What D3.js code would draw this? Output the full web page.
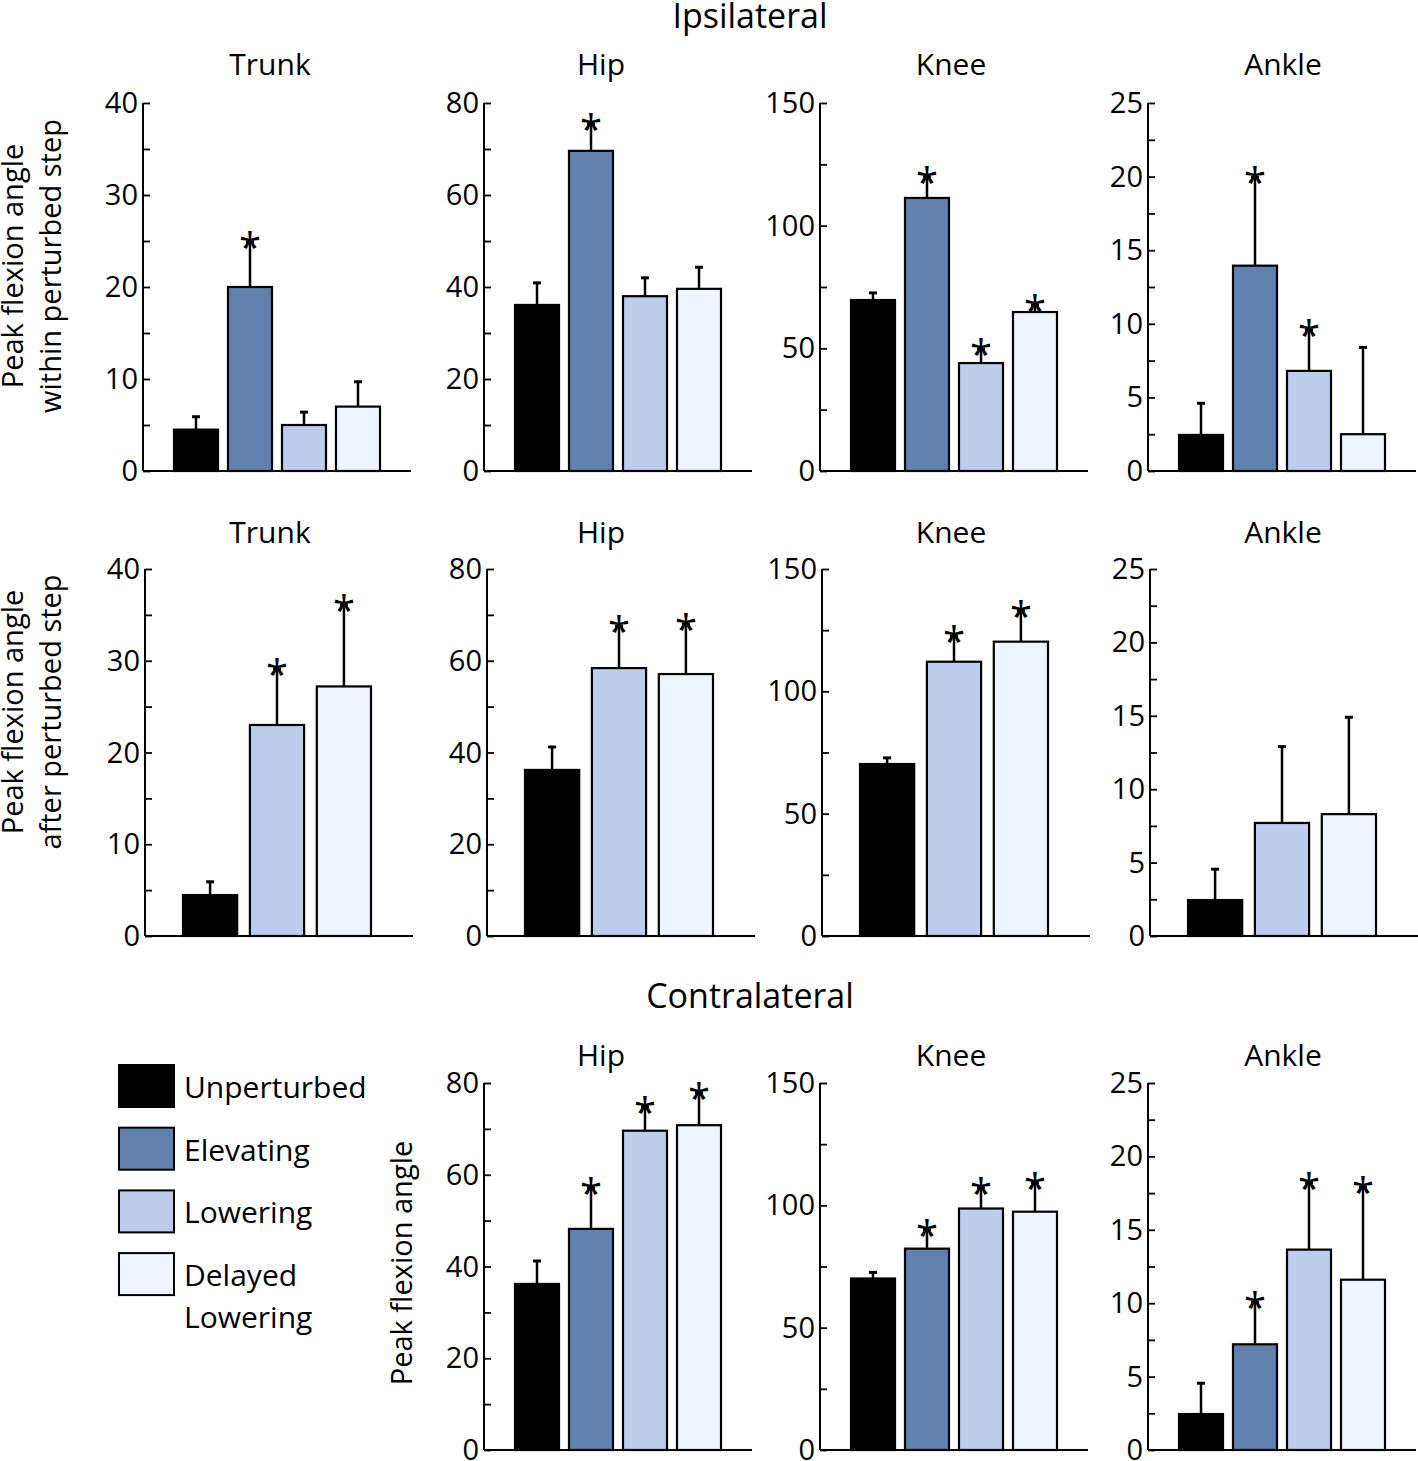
<!DOCTYPE html>
<html>
<head>
<meta charset="utf-8">
<title>Peak flexion angles</title>
<script src="https://cdn.jsdelivr.net/npm/d3@7"></script>
<style>
  body { margin: 0; background: #fff; }
  svg text { font-family: "Open Sans", "Noto Sans", sans-serif; fill: #000; font-weight: 500; }
</style>
</head>
<body>
<script>
// groups / colours
var groups = ["Unperturbed", "Elevating", "Lowering", "Delayed Lowering"];
var groupColors = ["#000000", "#6081ad", "#bccdeb", "#eef4fd"];
var afterGroups = ["Unperturbed", "Lowering", "Delayed Lowering"];

// joints and their y ranges
var joints = ["Trunk", "Hip", "Knee", "Ankle"];
var yMaxes = [40, 80, 150, 25];
var yMajor = [10, 20, 50, 5];

// ipsilateral, within perturbed step
var withinMean = [[4.5, 20.0, 5.0, 7.0], [36.1, 69.6, 38.0, 39.6], [69.7, 111.3, 44.0, 64.8], [2.45, 13.95, 6.8, 2.5]];
var withinErr  = [[1.4, 4.9, 1.4, 2.7], [4.8, 5.8, 4.0, 4.7], [2.9, 8.6, 5.7, 2.9], [2.15, 6.0, 2.8, 5.9]];
var withinStar = [[0, 1, 0, 0], [0, 1, 0, 0], [0, 1, 1, 1], [0, 1, 1, 0]];

// ipsilateral, after perturbed step
var afterMean = [[4.46, 23.0, 27.2], [36.2, 58.4, 57.1], [70.3, 112.1, 120.3], [2.45, 7.7, 8.3]];
var afterErr  = [[1.45, 6.1, 8.9], [5.0, 9.1, 10.9], [2.5, 10.4, 12.7], [2.1, 5.2, 6.6]];
var afterStar = [[0, 1, 1], [0, 1, 1], [0, 1, 1], [0, 0, 0]];

// contralateral (hip, knee, ankle)
var contraMean = [[36.2, 48.2, 69.6, 70.8], [70.1, 82.3, 98.7, 97.4], [2.45, 7.2, 13.65, 11.6]];
var contraErr  = [[5.0, 8.9, 5.2, 7.1], [2.5, 7.7, 8.5, 11.9], [2.1, 2.85, 4.55, 6.3]];
var contraStar = [[0, 1, 1, 1], [0, 1, 1, 1], [0, 1, 1, 1]];

var W = 1418, H = 1461;
var titleX = [270, 601, 951, 1283];

var svg = d3.select("body").append("svg")
    .attr("width", W)
    .attr("height", H);

function panel(x0, top, bottom, titleY, ji, cats, means, errs, stars) {
    var axisW = 268;
    var y = d3.scaleLinear().domain([0, yMaxes[ji]]).range([bottom, top]);
    var pad = cats.length == 4 ? [31, 237] : [38, 226];
    var x = d3.scaleBand().domain(cats).range([x0 + pad[0], x0 + pad[1]])
        .paddingInner(cats.length == 4 ? 0.185 : 0.19).paddingOuter(0);

    var g = svg.append("g");

    // title
    g.append("text")
        .attr("x", titleX[ji])
        .attr("y", titleY)
        .attr("text-anchor", "middle")
        .style("font-size", "30px")
        .text(joints[ji]);

    // bars
    cats.forEach(function(c, i) {
        var col = groupColors[groups.indexOf(c)];
        var bx = x(c), bw = x.bandwidth();
        var top = y(means[i]), et = y(means[i] + errs[i]);
        var cx = bx + bw / 2;
        g.append("line")
            .attr("x1", cx).attr("x2", cx)
            .attr("y1", top).attr("y2", et)
            .attr("stroke", "#000").attr("stroke-width", 2.5);
        g.append("line")
            .attr("x1", cx - 4).attr("x2", cx + 4)
            .attr("y1", et).attr("y2", et)
            .attr("stroke", "#000").attr("stroke-width", 3);
        g.append("rect")
            .attr("x", bx).attr("y", top)
            .attr("width", bw).attr("height", y(0) - top)
            .attr("fill", col)
            .attr("stroke", "#000").attr("stroke-width", 2.2);
        if (stars[i]) {
            g.append("text")
                .attr("x", cx)
                .attr("y", et + 20)
                .attr("text-anchor", "middle")
                .style("font-size", "40px")
                .text("*");
        }
    });

    // y axis with inward ticks
    var major = d3.range(0, yMaxes[ji] + 0.001, yMajor[ji]);
    var minor = d3.range(yMajor[ji] / 2, yMaxes[ji], yMajor[ji]);
    var ax = g.append("g").attr("transform", "translate(" + x0 + ",0)");
    ax.call(d3.axisRight(y).tickValues(major).tickSize(7).tickFormat(""));
    ax.append("g").call(d3.axisRight(y).tickValues(minor).tickSize(7).tickFormat(""));
    ax.selectAll(".domain").remove();
    ax.selectAll("line").attr("stroke", "#000").attr("stroke-width", 1.8);
    ax.append("line")
        .attr("x1", 0).attr("x2", 0)
        .attr("y1", top).attr("y2", bottom)
        .attr("stroke", "#000").attr("stroke-width", 2);
    major.forEach(function(v) {
        g.append("text")
            .attr("x", x0 - 5)
            .attr("y", y(v) + 10)
            .attr("text-anchor", "end")
            .style("font-size", "29px")
            .text(v);
    });

    // baseline
    g.append("line")
        .attr("x1", x0).attr("x2", x0 + axisW)
        .attr("y1", bottom).attr("y2", bottom)
        .attr("stroke", "#000").attr("stroke-width", 2);
}

var row1X = [143, 484, 820, 1148];
var row2X = [145, 487, 822, 1150];
var row3X = [484, 820, 1148];

joints.forEach(function(j, i) {
    panel(row1X[i], 103, 471, 75, i, groups, withinMean[i], withinErr[i], withinStar[i]);
    panel(row2X[i], 569, 936, 543, i, afterGroups, afterMean[i], afterErr[i], afterStar[i]);
});
[1, 2, 3].forEach(function(ji, i) {
    panel(row3X[i], 1083, 1450, 1066, ji, groups, contraMean[i], contraErr[i], contraStar[i]);
});

// section headings
svg.append("text").attr("x", 750).attr("y", 28).attr("text-anchor", "middle")
    .style("font-size", "34px").text("Ipsilateral");
svg.append("text").attr("x", 750).attr("y", 1008).attr("text-anchor", "middle")
    .style("font-size", "34px").text("Contralateral");

// y labels
function yLabel(cx, cy, lines) {
    var t = svg.append("text")
        .attr("transform", "translate(" + cx + "," + cy + ") rotate(-90)")
        .attr("text-anchor", "middle")
        .style("font-size", "29px");
    lines.forEach(function(l, i) {
        t.append("tspan").attr("x", 0).attr("dy", i == 0 ? 0 : 38).text(l);
    });
}
yLabel(23, 266, ["Peak flexion angle", "within perturbed step"]);
yLabel(23, 712, ["Peak flexion angle", "after perturbed step"]);
yLabel(412, 1263, ["Peak flexion angle"]);

// legend
var legendLabels = [["Unperturbed"], ["Elevating"], ["Lowering"], ["Delayed", "Lowering"]];
var leg = svg.append("g").attr("transform", "translate(119,1065)");
groups.forEach(function(gname, i) {
    var yy = i * 62.7;
    leg.append("rect")
        .attr("x", 0).attr("y", yy)
        .attr("width", 55).attr("height", 42)
        .attr("fill", groupColors[i])
        .attr("stroke", "#000").attr("stroke-width", 2);
    legendLabels[i].forEach(function(l, k) {
        leg.append("text")
            .attr("x", 65).attr("y", yy + 33 + k * 42)
            .style("font-size", "30px")
            .text(l);
    });
});
</script>
</body>
</html>
